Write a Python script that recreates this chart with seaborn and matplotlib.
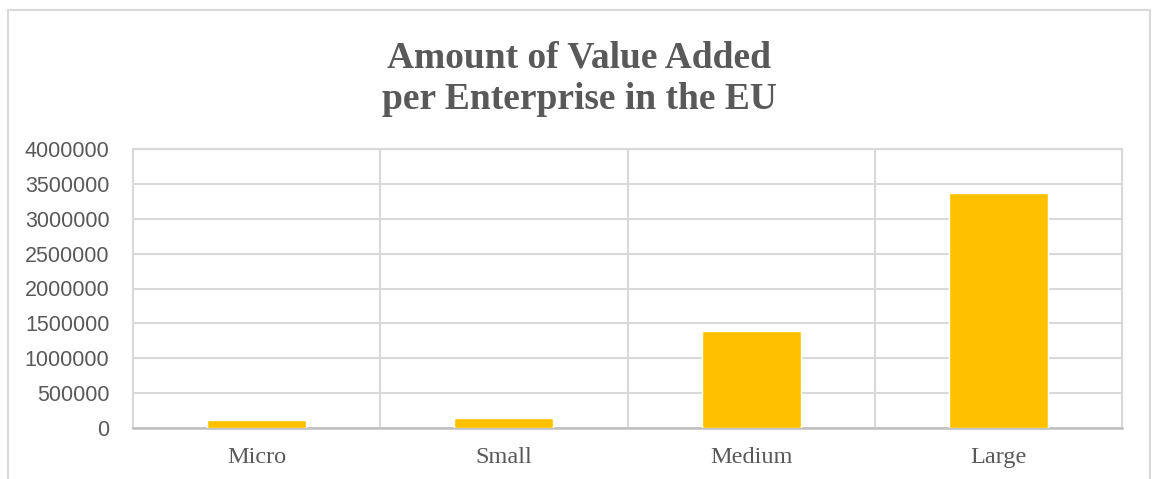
import matplotlib
matplotlib.use("Agg")
import matplotlib.pyplot as plt
import seaborn as sns
import pandas as pd
from matplotlib.patches import Rectangle
from matplotlib.ticker import FixedLocator

categories = ["Micro", "Small", "Medium", "Large"]
values = [120000, 145000, 1385000, 3365000]
yticks = [0, 500000, 1000000, 1500000, 2000000, 2500000, 3000000, 3500000, 4000000]
title = "Amount of Value Added\nper Enterprise in the EU"

sns.set_theme(style="white")
plt.rcParams["font.family"] = ["Liberation Sans", "DejaVu Sans"]

df = pd.DataFrame({"cat": categories, "val": values})

fig = plt.figure(figsize=(11.52, 4.79), dpi=100)
ax = fig.add_axes([133/1152, 1 - 428/479, (1122-133)/1152, (428-149)/479])

sns.barplot(data=df, x="cat", y="val", color="#FFC000", width=0.4,
            saturation=1, ax=ax, zorder=3)

ax.set_xlim(-0.5, 3.5)
ax.set_ylim(0, 4000000)
ax.set_yticks(yticks)
ax.set_yticklabels([str(v) for v in yticks], fontsize=15.5, color="#595959",
                   family=["Liberation Sans"])
ax.set_xticks(range(len(categories)))
ax.set_xticklabels(categories, fontsize=17.5, color="#595959",
                   family=["Liberation Serif"])
ax.set_xlabel("")
ax.set_ylabel("")
ax.tick_params(axis="both", length=0)
ax.tick_params(axis="y", pad=17)
ax.tick_params(axis="x", pad=14)

ax.yaxis.grid(True, color="#d9d9d9", linewidth=1.5, zorder=0)
ax.xaxis.set_minor_locator(FixedLocator([0.5, 1.5, 2.5]))
ax.xaxis.grid(True, which="minor", color="#d9d9d9", linewidth=1.5, zorder=0)
ax.xaxis.grid(False, which="major")
ax.set_axisbelow(True)

for s in ["left", "right", "top"]:
    ax.spines[s].set_visible(True)
    ax.spines[s].set_color("#d9d9d9")
    ax.spines[s].set_linewidth(1.5)
ax.spines["bottom"].set_color("#bfbfbf")
ax.spines["bottom"].set_linewidth(1.8)

fig.text(579/1152, 1 - 79/479, title, ha="center", va="center",
         fontsize=27, fontweight="bold", color="#595959",
         family=["Liberation Serif"], linespacing=1.25)

frame = Rectangle((8/1152, -0.05), (1150-8)/1152, 1.05 - 10/479,
                  transform=fig.transFigure, fill=False,
                  edgecolor="#d9d9d9", linewidth=1.5)
fig.patches.append(frame)

fig.savefig("out.png", dpi=100)
